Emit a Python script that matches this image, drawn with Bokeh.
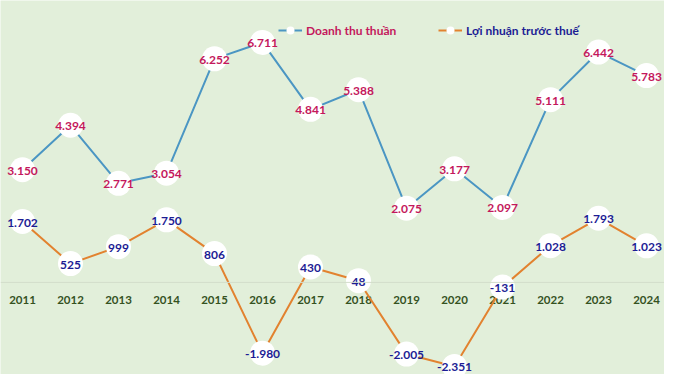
from bokeh.plotting import figure
from bokeh.models import ColumnDataSource, Span, Legend, LegendItem, Range1d
from bokeh.core.properties import value
from bokeh.embed import file_html
from bokeh.resources import INLINE

years = [2011, 2012, 2013, 2014, 2015, 2016, 2017, 2018, 2019, 2020, 2021, 2022, 2023, 2024]
revenue = [3150, 4394, 2771, 3054, 6252, 6711, 4841, 5388, 2075, 3177, 2097, 5111, 6442, 5783]
profit = [1702, 525, 999, 1750, 806, -1980, 430, 48, -2005, -2351, -131, 1028, 1793, 1023]
year_labels = [str(y) for y in years]
series_names = ["Doanh thu thuần", "Lợi nhuận trước thuế"]


def fmt(v):
    s = f"{abs(v):,}".replace(",", ".")
    return ("-" if v < 0 else "") + s


FONT = value("Lato")
BG = "#E2EFDA"
BLUE = "#4B96C3"
ORANGE = "#E2822F"
REV_TXT = "#C4185C"
PRO_TXT = "#1C1C94"
YEAR_TXT = "#35521F"

p = figure(width=664, height=374, output_backend="svg", toolbar_location=None,
           x_range=Range1d(2010.542, 2024.375), y_range=Range1d(-2576, 7884),
           min_border=0, background_fill_color=BG, border_fill_color=BG)
p.xaxis.visible = False
p.yaxis.visible = False
p.xgrid.visible = False
p.ygrid.visible = False
p.outline_line_color = None

p.add_layout(Span(location=0, dimension="width", line_color="#D3DDCB", line_width=1))

rev_src = ColumnDataSource(dict(x=years, y=revenue, t=[fmt(v) for v in revenue]))
pro_src = ColumnDataSource(dict(x=years, y=profit, t=[fmt(v) for v in profit]))
yr_src = ColumnDataSource(dict(x=years, y=[0] * len(years), t=year_labels))

p.text(x="x", y="y", text="t", source=yr_src, text_font=FONT, text_font_style="bold",
       text_font_size="11.5px", text_color=YEAR_TXT, text_align="center",
       text_baseline="middle", y_offset=18)

pl = p.line("x", "y", source=pro_src, line_color=ORANGE, line_width=2)
ps = p.scatter("x", "y", source=pro_src, size=25, fill_color="white", line_color=None)
rl = p.line("x", "y", source=rev_src, line_color=BLUE, line_width=2)
rs = p.scatter("x", "y", source=rev_src, size=25, fill_color="white", line_color=None)

p.text(x="x", y="y", text="t", source=rev_src, text_font=FONT, text_font_style="bold",
       text_font_size="12px", text_color=REV_TXT, text_align="center", text_baseline="middle",
       y_offset=1)
p.text(x="x", y="y", text="t", source=pro_src, text_font=FONT, text_font_style="bold",
       text_font_size="12px", text_color=PRO_TXT, text_align="center", text_baseline="middle",
       y_offset=1)

for (items, loc, col) in [([LegendItem(label=series_names[0], renderers=[rl, rs])], (278, 334), REV_TXT),
                          ([LegendItem(label=series_names[1], renderers=[pl, ps])], (438, 334), PRO_TXT)]:
    lg = Legend(items=items, location=loc, orientation="horizontal", glyph_width=24,
                glyph_height=20, label_standoff=4, padding=0, margin=0, spacing=0,
                background_fill_alpha=0, border_line_alpha=0,
                label_text_font="Lato", label_text_font_style="bold",
                label_text_font_size="12px", label_text_color=col)
    p.add_layout(lg, "center")

open("out.html", "w").write(file_html(p, INLINE))
